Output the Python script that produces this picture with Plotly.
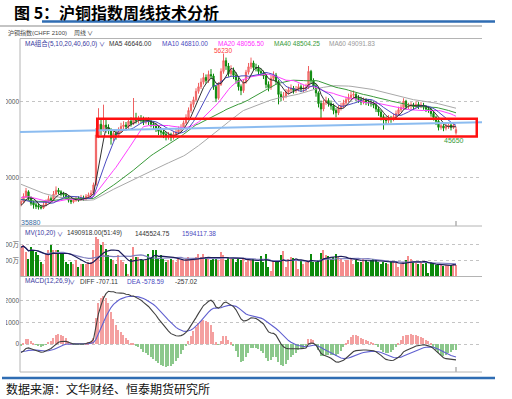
import plotly.graph_objects as go
import pandas as pd

W, H = 512, 399

# ---------------- data (weekly SHFE copper index) ----------------
prior_closes = [
    45600, 45900, 46200, 45500, 44900, 44400, 44700, 44000, 43500, 43100,
    42600, 42900, 43300, 42800, 42200, 41700, 41300, 40700, 41100, 40800,
    40400, 39800, 39200, 38600, 38900, 38400, 37800, 37200, 36900, 36600,
    36200, 35800, 36300, 36700, 36100, 35600, 35200, 35400, 35900, 36400,
    36800, 36500, 37100, 37600, 38200, 38500, 38100, 37700, 38000, 37500,
    37900, 38600, 38800, 38200, 37400, 36800, 36300, 36000, 36400, 36600]

opens = [
    36600, 36900, 37500, 38200, 37400, 36800, 36500, 36400, 36200, 36100,
    36500, 36900, 37300, 37200, 37900, 38400, 38200, 37900, 37800, 37500,
    37100, 36900, 37100, 37300, 37200, 37400, 37300, 37600, 37800, 38000,
    39100, 45600, 47000, 46200, 46900, 46600, 46300, 45200, 45800, 45600,
    46100, 46700, 46900, 46700, 47400, 47100, 47800, 47500, 47700, 47600,
    47300, 47500, 47400, 47000, 46900, 46500, 46100, 46000, 45700, 45400,
    45600, 45300, 45700, 46000, 46300, 46600, 47200, 47900, 48800, 49600,
    50200, 51300, 51900, 52500, 53100, 52700, 53500, 53300, 51900, 50400,
    52200, 53900, 55300, 54600, 53600, 54000, 53400, 52800, 51900, 51400,
    52500, 53800, 54500, 55000, 54400, 54300, 53900, 53700, 53300, 52200,
    51800, 53000, 53400, 52600, 50900, 50500, 50700, 51200, 51500, 51700,
    51400, 51600, 51900, 51600, 51700, 51800, 53900, 52700, 52000, 51100,
    49700, 49000, 49800, 50100, 49700, 49400, 48800, 48500, 49100, 49400,
    49800, 50200, 50500, 50800, 50900, 50400, 50200, 49900, 50100, 49900,
    49800, 49700, 49500, 49000, 48600, 48000, 47600, 47500, 47800, 47700,
    48000, 48400, 48900, 49200, 50000, 49300, 49400, 49500, 49300, 49600,
    49400, 49500, 49300, 49000, 48900, 48400, 47900, 47400, 46600, 46800,
    46500, 46700, 46900, 46600, 45900]

highs = [
    37300, 38000, 38700, 38400, 37600, 37000, 36800, 36700, 36500, 36900,
    37200, 37700, 37600, 38300, 38900, 38700, 38400, 38200, 38000, 37700,
    37400, 37400, 37600, 37600, 37800, 37700, 37900, 38100, 38400, 39400,
    46500, 49100, 47600, 49560, 47600, 47000, 46500, 46200, 46300, 46600,
    47200, 47400, 47300, 47800, 47900, 50430, 48500, 48100, 48200, 48000,
    47900, 47900, 47700, 47400, 47100, 46800, 46500, 46300, 46000, 46000,
    45900, 46100, 46400, 46700, 47000, 47500, 48300, 49200, 50000, 50600,
    51700, 52400, 53000, 53700, 53500, 54000, 54200, 53600, 52100, 52500,
    54300, 56230, 55700, 55000, 54700, 54400, 53800, 53100, 52200, 52900,
    54100, 55000, 55700, 55300, 54900, 54700, 54300, 54000, 53500, 52600,
    53400, 53900, 53700, 52800, 51300, 51200, 51600, 51900, 52200, 52000,
    52000, 52300, 52200, 52100, 52300, 54600, 54100, 53000, 52300, 51300,
    50100, 50200, 50600, 50400, 50100, 49700, 49100, 49500, 49800, 50200,
    50600, 51000, 51300, 51400, 51100, 50800, 50600, 50500, 50400, 50300,
    50200, 50000, 49800, 49300, 48900, 48300, 48000, 48200, 48100, 48400,
    48800, 49300, 49600, 50400, 50200, 49800, 49900, 49800, 50000, 49900,
    49900, 49800, 49500, 49400, 49200, 48700, 48100, 47600, 47200, 47100,
    47100, 47300, 47200, 47300, 46700]

lows = [
    36300, 36700, 37400, 37100, 36400, 36000, 35950, 35880, 35900, 35950,
    36300, 36700, 36900, 37000, 37700, 37900, 37600, 37500, 37200, 36800,
    36600, 36700, 36900, 36900, 37000, 37000, 37100, 37300, 37600, 37800,
    39000, 45200, 45600, 46000, 45900, 45700, 44350, 44800, 45000, 45300,
    45900, 46300, 46200, 46400, 46700, 46900, 47100, 47100, 47200, 46900,
    47000, 46900, 46600, 46300, 46000, 45600, 45500, 45200, 44900, 45000,
    44800, 45000, 45400, 45700, 46000, 46400, 47000, 47700, 48500, 49200,
    50000, 51000, 51600, 52200, 52300, 52400, 52900, 51500, 49900, 50200,
    52000, 53600, 54100, 53200, 53300, 52900, 52300, 51400, 50800, 51100,
    52300, 53500, 54200, 54000, 53900, 53500, 53300, 52900, 51700, 51300,
    51500, 52700, 52200, 49600, 50000, 50100, 50400, 50900, 51100, 51000,
    51100, 51300, 51200, 51200, 51300, 51600, 52300, 51600, 50600, 49200,
    47800, 48700, 49500, 49300, 48900, 48300, 47900, 48200, 48800, 49100,
    49500, 49900, 50200, 50400, 50000, 49800, 49500, 49600, 49500, 49400,
    49300, 49100, 48600, 48100, 47500, 46300, 47000, 47100, 47200, 47400,
    47700, 48100, 48600, 48900, 48900, 49000, 49000, 48900, 49100, 49000,
    49100, 48900, 48600, 48500, 48000, 47500, 46900, 46200, 46300, 46100,
    46200, 46400, 46200, 46400, 45650]

closes = [
    36950, 37600, 38300, 37400, 36700, 36500, 36300, 36200, 36100, 36500,
    36900, 37300, 37200, 37900, 38400, 38200, 37900, 37800, 37500, 37100,
    36900, 37100, 37300, 37200, 37400, 37300, 37600, 37800, 38000, 39100,
    45600, 47000, 46200, 46900, 46600, 46300, 45200, 45800, 45600, 46100,
    46700, 46900, 46700, 47400, 47100, 47800, 47500, 47700, 47600, 47300,
    47500, 47400, 47000, 46900, 46500, 46100, 46000, 45700, 45400, 45600,
    45300, 45700, 46000, 46300, 46600, 47200, 47900, 48800, 49600, 50200,
    51300, 51900, 52500, 53100, 52700, 53500, 53300, 51900, 50400, 52200,
    53900, 55300, 54600, 53600, 54000, 53400, 52800, 51900, 51400, 52500,
    53800, 54500, 55000, 54400, 54300, 53900, 53700, 53300, 52200, 51800,
    53000, 53400, 52600, 50900, 50500, 50700, 51200, 51500, 51700, 51400,
    51600, 51900, 51600, 51700, 51800, 53900, 52700, 52000, 51100, 49700,
    49000, 49800, 50100, 49700, 49400, 48800, 48500, 49100, 49400, 49800,
    50200, 50500, 50800, 50900, 50400, 50200, 49900, 50100, 49900, 49800,
    49700, 49500, 49000, 48600, 48000, 47600, 47500, 47800, 47700, 48000,
    48400, 48900, 49200, 50000, 49300, 49400, 49500, 49300, 49600, 49400,
    49500, 49300, 49000, 48900, 48400, 47900, 47400, 46600, 46800, 46500,
    46700, 46900, 46600, 46900, 46300]

# weekly volume, unit: 万手
volumes = [
    367, 388, 304, 221, 367, 325, 304, 263, 179, 158,
    283, 325, 388, 325, 325, 325, 283, 283, 179, 158,
    179, 158, 200, 117, 158, 158, 158, 179, 179, 325,
    492, 471, 388, 429, 346, 263, 221, 200, 158, 263,
    200, 179, 158, 33, 221, 367, 242, 242, 221, 200,
    221, 283, 242, 325, 325, 221, 263, 221, 179, 200,
    221, 200, 179, 221, 200, 200, 221, 242, 200, 221,
    242, 283, 242, 283, 242, 221, 200, 242, 221, 200,
    304, 263, 200, 242, 221, 221, 179, 221, 200, 221,
    179, 221, 200, 221, 179, 179, 250, 179, 275, 117,
    75, 200, 200, 200, 263, 313, 117, 221, 242, 233,
    200, 96, 200, 158, 179, 200, 283, 179, 179, 200,
    292, 325, 263, 250, 221, 242, 275, 242, 221, 179,
    200, 200, 233, 158, 208, 179, 179, 221, 200, 179,
    200, 221, 200, 179, 158, 179, 167, 158, 179, 179,
    167, 117, 158, 179, 208, 250, 221, 179, 167, 158,
    179, 158, 167, 50, 179, 170, 146, 158, 138, 135,
    138, 138, 138, 138, 149.1]

price_ticks = [40000, 50000]
vol_ticks = [200, 400]
vol_tick_labels = ['200万', '400万']
macd_ticks = [0, 1000, 2000]

# consolidation box and support line (data coordinates)
BOX_LOW, BOX_HIGH = 45400, 47730
BOX_FIRST_BAR, BOX_END = 30.5, 182.3
SUPPORT = ((-0.4, 46000), (184.8, 47260))

# ---------------- derived indicators ----------------
N = len(closes)
idx = list(range(N))
s_all = pd.Series(prior_closes + closes, dtype=float)


def ma(n):
    return s_all.rolling(n, min_periods=1).mean().iloc[-N:].tolist()


ema12 = s_all.ewm(span=12, adjust=False).mean()
ema26 = s_all.ewm(span=26, adjust=False).mean()
diff_s = ema12 - ema26
dea_s = diff_s.ewm(span=9, adjust=False).mean()
macd_s = 2 * (diff_s - dea_s)
diff = diff_s.iloc[-N:].tolist()
dea = dea_s.iloc[-N:].tolist()
macd = macd_s.iloc[-N:].tolist()

vs = pd.Series(volumes, dtype=float)
mv10 = vs.rolling(10, min_periods=1).mean().tolist()
mv20 = vs.rolling(20, min_periods=1).mean().tolist()

# ---------------- figure ----------------
UP_LINE, UP_FILL = '#f06060', '#f58c8c'
DN = '#0b8a0b'

fig = go.Figure()
fig.add_trace(go.Candlestick(
    x=idx, open=opens, high=highs, low=lows, close=closes,
    increasing=dict(line=dict(color=UP_LINE, width=1), fillcolor=UP_FILL),
    decreasing=dict(line=dict(color=DN, width=1), fillcolor=DN),
    whiskerwidth=0, xaxis='x', yaxis='y', showlegend=False, hoverinfo='skip'))

for vals, col in [(ma(60), '#a8a8a8'), (ma(40), '#3a9a3a'), (ma(20), '#ff40ff'),
                  (ma(10), '#4a4ac0'), (ma(5), '#303030')]:
    fig.add_trace(go.Scatter(x=idx, y=vals, mode='lines', line=dict(color=col, width=1),
                             xaxis='x', yaxis='y', showlegend=False, hoverinfo='skip'))

vol_cols = [UP_FILL if c >= o else DN for o, c in zip(opens, closes)]
fig.add_trace(go.Bar(x=idx, y=volumes, width=0.72, marker=dict(color=vol_cols, line=dict(width=0)),
                     xaxis='x2', yaxis='y2', showlegend=False, hoverinfo='skip'))
fig.add_trace(go.Scatter(x=idx, y=mv20, mode='lines', line=dict(color='#8080c0', width=1.2),
                         xaxis='x2', yaxis='y2', showlegend=False, hoverinfo='skip'))
fig.add_trace(go.Scatter(x=idx, y=mv10, mode='lines', line=dict(color='#1c1c5a', width=1.2),
                         xaxis='x2', yaxis='y2', showlegend=False, hoverinfo='skip'))

macd_cols = ['#f4a0a0' if v >= 0 else '#8cc88c' for v in macd]
fig.add_trace(go.Bar(x=idx, y=macd, width=0.42, marker=dict(color=macd_cols, line=dict(width=0)),
                     xaxis='x3', yaxis='y3', showlegend=False, hoverinfo='skip'))
fig.add_trace(go.Scatter(x=idx, y=dea, mode='lines', line=dict(color='#6060d0', width=1.1),
                         xaxis='x3', yaxis='y3', showlegend=False, hoverinfo='skip'))
fig.add_trace(go.Scatter(x=idx, y=diff, mode='lines', line=dict(color='#404040', width=1.1),
                         xaxis='x3', yaxis='y3', showlegend=False, hoverinfo='skip'))


def px(x):
    return x / W


def py(y):
    return 1 - y / H


XDOM = [px(20), px(482)]
XR = [-0.4, 184.4]
TF = dict(family='Liberation Sans, Noto Sans CJK SC', size=6.5, color='#555555')
ax_common = dict(domain=XDOM, range=XR, visible=False, fixedrange=True)
y_common = dict(showgrid=True, gridcolor='#c4c4c4', griddash='dot', gridwidth=1,
                zeroline=False, showline=False, ticks='', tickfont=TF,
                tickformat='d', fixedrange=True)

fig.update_layout(
    width=W, height=H, margin=dict(l=0, r=0, t=0, b=0),
    paper_bgcolor='white', plot_bgcolor='white', showlegend=False,
    bargap=0,
    xaxis=dict(**ax_common, rangeslider=dict(visible=False)),
    xaxis2=dict(**ax_common, anchor='y2'),
    xaxis3=dict(**ax_common, anchor='y3'),
    yaxis=dict(**y_common, domain=[py(226), py(38.5)], range=[33739, 58189], tickvals=price_ticks),
    yaxis2=dict(**y_common, domain=[py(276.5), py(226)], range=[0, 631], tickvals=vol_ticks,
                ticktext=vol_tick_labels),
    yaxis3=dict(**y_common, domain=[py(372), py(277)], range=[-1290, 3088], tickvals=macd_ticks),
)

shapes = []
G = '#b4b4b4'


def hline(y, x0, x1, color=G, w=1):
    shapes.append(dict(type='line', xref='paper', yref='paper', x0=px(x0), x1=px(x1),
                       y0=py(y), y1=py(y), line=dict(color=color, width=w), layer='above'))


# crop the leading part of the y labels like the source screenshot
shapes.append(dict(type='rect', xref='paper', yref='paper', x0=0, x1=px(6), y0=py(373), y1=py(38),
                   fillcolor='white', line=dict(width=0), layer='above'))
hline(21.5, 42, 495, '#2f6db3', 2.5)
hline(26, 0, 482, '#c4c4c4', 2)
hline(38.5, 20, 482)
hline(226, 20, 482)
hline(276.5, 20, 482)
hline(372, 20, 482)
hline(378, 2, 495, '#2f6db3', 2.5)
shapes.append(dict(type='line', xref='paper', yref='paper', x0=px(20), x1=px(20), y0=py(372), y1=py(38.5),
                   line=dict(color=G, width=1), layer='above'))
# cursor ticks on last bar
for a, b in [(221, 226), (367, 372)]:
    shapes.append(dict(type='line', xref='x', yref='paper', x0=N - 1, x1=N - 1, y0=py(b), y1=py(a),
                       line=dict(color='#b0b0b0', width=1.5), layer='above'))
# support line and consolidation box
shapes.append(dict(type='line', xref='x', yref='y', x0=SUPPORT[0][0], y0=SUPPORT[0][1],
                   x1=SUPPORT[1][0], y1=SUPPORT[1][1], line=dict(color='#8cbcf0', width=2)))
shapes.append(dict(type='rect', xref='x', yref='y', x0=BOX_FIRST_BAR, x1=BOX_END, y0=BOX_LOW, y1=BOX_HIGH,
                   line=dict(color='#ff1010', width=2.5), fillcolor='rgba(0,0,0,0)', layer='above'))
fig.update_layout(shapes=shapes)

ann = []
CJK = 'Noto Sans CJK SC'
NUMF = 'Liberation Sans, Noto Sans CJK SC'


def text(x, y, s, color='#333333', size=6.5, family=NUMF, anchor='left'):
    ann.append(dict(xref='paper', yref='paper', x=px(x), y=py(y), text=s, showarrow=False,
                    xanchor=anchor, yanchor='middle', font=dict(family=family, size=size, color=color)))


text(12, 11.5, '<b>图 5：沪铜指数周线技术分析</b>', '#000000', 16, CJK)
text(6, 33, '沪铜指数(CHFF 2100)', '#444444', 6)
text(72, 33, '周线', '#444444', 6)
text(85, 33, '∨', '#444444', 6)

text(22.5, 43, 'MA组合(5,10,20,40,60,0)', '#3a3aa0')
text(97, 43.5, '∨', '#3a3aa0', 6)
text(107, 43, 'MA5 46646.00', '#333333')
text(160, 43, 'MA10 46810.00', '#4a4ac0')
text(216, 43, 'MA20 48056.50', '#ff30ff')
text(272, 43, 'MA40 48504.25', '#3a9a3a')
text(327, 43, 'MA60 49091.83', '#999999')

text(22.5, 233, 'MV(10,20)', '#3a3aa0')
text(55, 233.5, '∨', '#3a3aa0', 6)
text(65, 233, '1490918.00(51:49)', '#333333')
text(133, 233, '1445524.75', '#333333')
text(180, 233, '1594117.38', '#4a4ac0')

text(22.5, 281, 'MACD(12,26,9)', '#3a3aa0')
text(67, 281.5, '∨', '#3a3aa0', 6)
text(78, 281, 'DIFF -707.11', '#333333')
text(125, 281, 'DEA -578.59', '#4a4ac0')
text(173, 281, '-257.02', '#333333')

text(4, 388, '数据来源：文华财经、恒泰期货研究所', '#111111', 12, CJK)

# extreme value labels, located from the data
hi_i = max(range(N), key=lambda i: highs[i])
lo_i = min(range(N), key=lambda i: lows[i])
last_i = N - 1
ann.append(dict(xref='x', yref='y', x=hi_i, y=highs[hi_i], text=str(highs[hi_i]), showarrow=False,
                xanchor='center', yanchor='bottom', yshift=-2, xshift=-1,
                font=dict(family=NUMF, size=6.5, color='#ff4040')))
ann.append(dict(xref='x', yref='y', x=last_i, y=lows[last_i], text=str(lows[last_i]), showarrow=False,
                xanchor='center', yanchor='top', yshift=0, xshift=-2,
                font=dict(family=NUMF, size=7, color='#3a9a3a')))
ann.append(dict(xref='x', yref='y', x=lo_i, y=lows[lo_i], text=str(lows[lo_i]), showarrow=False,
                xanchor='center', yanchor='top', yshift=-7, xshift=-8,
                font=dict(family=NUMF, size=7, color='#3a6aa0')))
fig.update_layout(annotations=ann)

fig.write_html('out.html', config={'displayModeBar': False},
               post_script="document.body.style.margin='0px';document.body.style.padding='0px';")
